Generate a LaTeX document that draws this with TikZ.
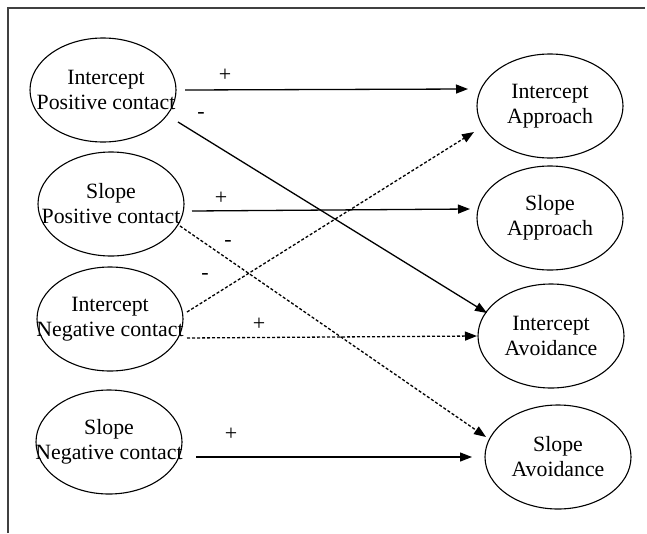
\documentclass[tikz,border=0pt]{standalone}
\usepackage{fontspec}
\setmainfont{Liberation Serif}
\usetikzlibrary{arrows.meta,calc,shapes.geometric}
\begin{document}
\begin{tikzpicture}[x=1pt,y=-1pt,
  var/.style={draw, line width=1.1pt, ellipse, minimum width=146pt, minimum height=104pt, inner sep=0pt},
  lbl/.style={align=center, inner sep=0pt, font=\fontsize{21.8}{25}\selectfont},
  link/.style={line width=1.3pt, -{Triangle[length=12pt,width=9pt]}},
  dotlink/.style={link, dash pattern=on 3pt off 2pt},
  sign/.style={font=\fontsize{22}{25}\selectfont, inner sep=0pt}]
\useasboundingbox (0,0) rectangle (647,533);
\draw[line width=1.2pt, black!75] (8,533) -- (8,8) -- (645,8);
\node[var, label={[lbl, xshift=3pt]center:{Intercept\\Positive contact}}] (ipc) at (103,90) {};
\node[var, label={[lbl]center:{Slope\\Positive contact}}] (spc) at (111,204) {};
\node[var, label={[lbl]center:{Intercept\\Negative contact}}] (inc) at (110,319) {};
\node[var, label={[lbl]center:{Slope\\Negative contact}}] (snc) at (109,442) {};
\node[var, label={[lbl]center:{Intercept\\Approach}}] (ia) at (550,106) {};
\node[var, label={[lbl]center:{Slope\\Approach}}] (sa) at (550,218) {};
\node[var, label={[lbl]center:{Intercept\\Avoidance}}] (iav) at (551,336) {};
\node[var, label={[lbl]center:{Slope\\Avoidance}}] (sav) at (558,457) {};
\draw[link] ($(ipc.center)+(82,0)$) -- ($(ia.center)+(-82,-17)$);
\draw[link] ($(ipc.center)+(75,32)$) -- ($(iav.center)+(-64,-23)$);
\draw[link] ($(spc.center)+(81,7)$) -- ($(sa.center)+(-80,-9)$);
\draw[dotlink] ($(spc.center)+(69,22)$) -- ($(sav.center)+(-72,-20)$);
\draw[dotlink] ($(inc.center)+(77,-7)$) -- ($(ia.center)+(-76,26)$);
\draw[dotlink] ($(inc.center)+(77,19)$) -- ($(iav.center)+(-74,0)$);
\draw[link] ($(snc.center)+(87,15)$) -- ($(sav.center)+(-86,0)$);
\node[sign] (s1) at (225,75) {+};
\node[sign] (s2) at (201,115) {-};
\node[sign] (s3) at (221,198) {+};
\node[sign] (s4) at (228,243) {-};
\node[sign] (s5) at (205,276) {-};
\node[sign] (s6) at (259,324) {+};
\node[sign] (s7) at (231,434) {+};
\end{tikzpicture}
\end{document}
